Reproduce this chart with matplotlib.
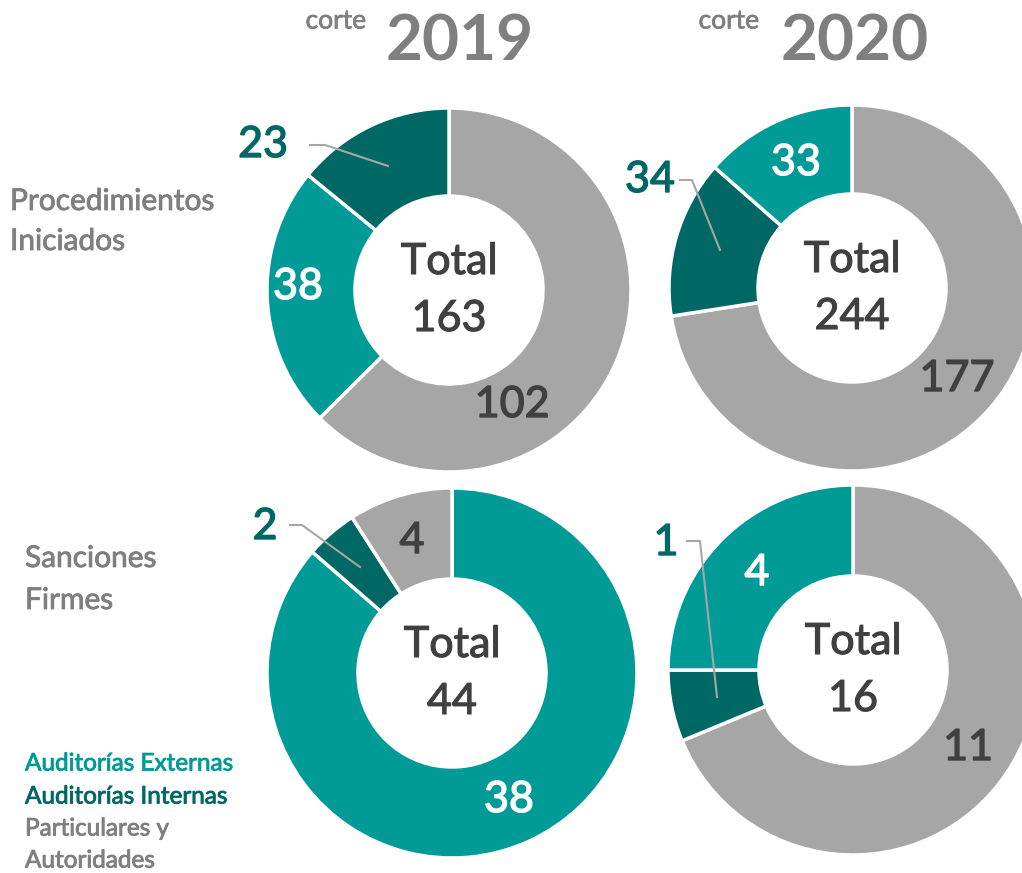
import matplotlib.pyplot as plt
import matplotlib.patheffects as pe

# --- Data ---
categorias = ['Auditorías Externas', 'Auditorías Internas', 'Particulares y\nAutoridades']
anios = ['2019', '2020']
filas = ['Procedimientos\nIniciados', 'Sanciones\nFirmes']

# values in drawing order (clockwise from 12 o'clock)
proc_2019 = [102, 38, 23]
proc_2019_cat = [2, 0, 1]
proc_2020 = [177, 34, 33]
proc_2020_cat = [2, 1, 0]
sanc_2019 = [38, 2, 4]
sanc_2019_cat = [0, 1, 2]
sanc_2020 = [11, 1, 4]
sanc_2020_cat = [2, 1, 0]

# --- Style ---
COLORES = ['#009B96', '#006864', '#A6A6A6']
GRIS_TXT = '#7F7F7F'
OSCURO = '#404040'
FONT = 'Lato'
W, H = 1022, 873


def Y(y):
    # pixel row (top-down) -> data y
    return H - y


def texto(x, y, s, color, size, lw=0.6, **kw):
    # Lato regular is a bit thin compared with the original, thicken slightly
    t = ax.text(x, Y(y), s, color=color, fontsize=size, family=FONT,
                va='center', **kw)
    t.set_path_effects([pe.withStroke(linewidth=lw, foreground=color)])
    return t


fig = plt.figure(figsize=(W / 100, H / 100), dpi=100)
ax = fig.add_axes([0, 0, 1, 1])

donas = [
    (proc_2019, proc_2019_cat, (449, 290), 182),
    (proc_2020, proc_2020_cat, (852, 288), 183),
    (sanc_2019, sanc_2019_cat, (452, 673), 185),
    (sanc_2020, sanc_2020_cat, (853, 670), 185),
]
R_IN = 94

for vals, cats, (cx, cy), r in donas:
    ax.pie(vals, colors=[COLORES[c] for c in cats], startangle=90, counterclock=False,
           center=(cx, Y(cy)), radius=r,
           wedgeprops=dict(width=r - R_IN, edgecolor='white', linewidth=2.5))
    texto(cx, cy - 28, 'Total', OSCURO, 31, lw=0.8, ha='center')
    texto(cx, cy + 29, str(sum(vals)), OSCURO, 31, lw=0.8, ha='center')

ax.set_xlim(0, W)
ax.set_ylim(0, H)
ax.set_aspect('equal')
ax.axis('off')

# --- Slice labels ---
etiquetas = [
    # (text, x, y, color)
    (str(proc_2019[0]), 512, 405, OSCURO),
    (str(proc_2019[1]), 298, 287, 'white'),
    (str(proc_2019[2]), 263, 145, COLORES[1]),
    (str(proc_2020[0]), 957, 379, OSCURO),
    (str(proc_2020[1]), 650, 180, COLORES[1]),
    (str(proc_2020[2]), 796, 163, 'white'),
    (str(sanc_2019[0]), 509, 800, 'white'),
    (str(sanc_2019[1]), 265, 527, COLORES[1]),
    (str(sanc_2019[2]), 412, 541, OSCURO),
    (str(sanc_2020[0]), 968, 748, OSCURO),
    (str(sanc_2020[1]), 666, 543, COLORES[1]),
    (str(sanc_2020[2]), 757, 573, 'white'),
]
for txt, x, y, c in etiquetas:
    texto(x, y, txt, c, 31, lw=1.0, ha='center')

# leader lines
lineas = [
    ([310, 325, 388], [145, 145, 166]),
    ([680, 692, 720], [180, 180, 250]),
    ([290, 302, 360], [525, 525, 567]),
    ([687, 700, 717], [541, 541, 697]),
]
for xs, ys in lineas:
    ax.plot(xs, [Y(v) for v in ys], color='#A6A6A6', lw=1.5)

# --- Headers ---
for (xc, xa), anio in zip([(336, 460), (729, 855)], anios):
    texto(xc, 21, 'corte', GRIS_TXT, 19, lw=0.5, ha='center')
    ax.text(xa, Y(42), anio, ha='center', va='center', fontsize=46,
            color=GRIS_TXT, family=FONT, fontweight='bold')

# row labels
for (x, ys), fila in zip([(10, (201, 241)), (25, (558, 600))], filas):
    for y, linea in zip(ys, fila.split('\n')):
        texto(x, y, linea, GRIS_TXT, 21.5, lw=0.6, ha='left')

# --- Legend as colored text ---
ley_y = [764, 797, 829, 861]
ley_txt = categorias[0:2] + categorias[2].split('\n')
ley_col = [COLORES[0], COLORES[1], GRIS_TXT, GRIS_TXT]
for y, t, c in zip(ley_y, ley_txt, ley_col):
    texto(25, y, t, c, 17.5, lw=0.6, ha='left')

fig.savefig('out.png', dpi=100, facecolor='white')
